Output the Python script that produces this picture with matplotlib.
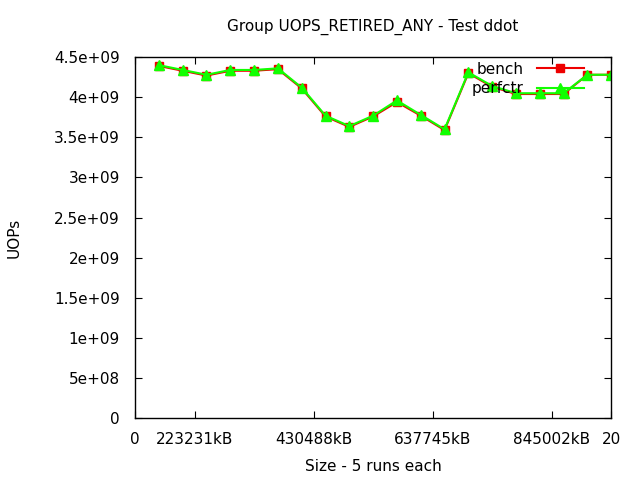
import matplotlib
matplotlib.use('Agg')
import matplotlib.pyplot as plt

# run index on x, sizes only shown as tick labels
runs = list(range(1, 21))
bench = [4.39e9, 4.33e9, 4.27e9, 4.33e9, 4.33e9, 4.35e9, 4.11e9, 3.76e9, 3.63e9, 3.76e9,
         3.94e9, 3.77e9, 3.59e9, 4.30e9, 4.13e9, 4.04e9, 4.04e9, 4.04e9, 4.28e9, 4.28e9]
perfctr = [4.40e9, 4.34e9, 4.28e9, 4.34e9, 4.34e9, 4.36e9, 4.12e9, 3.77e9, 3.64e9, 3.77e9,
           3.96e9, 3.78e9, 3.60e9, 4.31e9, 4.14e9, 4.05e9, 4.05e9, 4.05e9, 4.28e9, 4.28e9]
xtick_pos = [0, 2.5, 7.5, 12.5, 17.5, 20]
xtick_labels = ['0', '223231kB', '430488kB', '637745kB', '845002kB', '20']
ytick_pos = [0, 5e8, 1e9, 1.5e9, 2e9, 2.5e9, 3e9, 3.5e9, 4e9, 4.5e9]
ytick_labels = ['0', '5e+08', '1e+09', '1.5e+09', '2e+09', '2.5e+09',
                '3e+09', '3.5e+09', '4e+09', '4.5e+09']

plt.rcParams['font.family'] = 'DejaVu Sans'
plt.rcParams['font.size'] = 11

fig = plt.figure(figsize=(6.4, 4.8), dpi=100)
ax = fig.add_axes([0.211, 0.129, 0.744, 0.752])

ax.plot(runs, bench, color='#ee0000', lw=1.5, marker='s', ms=6, label='bench')
ax.plot(runs, perfctr, color='#11ff00', lw=1.5, marker='^', ms=7.5, label='perfctr')

ax.set_xlim(0, 20)
ax.set_ylim(0, 4.5e9)
ax.set_xticks(xtick_pos)
ax.set_xticklabels(xtick_labels)
ax.set_yticks(ytick_pos)
ax.set_yticklabels(ytick_labels)
ax.tick_params(direction='in', top=True, right=True, length=5, color='black',
               labelsize=11)
ax.tick_params(axis='y', pad=11)
ax.tick_params(axis='x', pad=10)
for s in ax.spines.values():
    s.set_linewidth(1)

ax.set_title('Group UOPS_RETIRED_ANY - Test ddot', fontsize=11, pad=19)
ax.set_xlabel('Size - 5 runs each', fontsize=11, labelpad=9)
ax.set_ylabel('UOPs', fontsize=11, labelpad=23)

leg = ax.legend(loc='upper right', bbox_to_anchor=(0.943, 0.987), frameon=False,
                markerfirst=False, handlelength=3.1, handletextpad=0.85,
                labelspacing=0.3, fontsize=11, borderaxespad=0, borderpad=0)

fig.savefig('out.png', dpi=100)
